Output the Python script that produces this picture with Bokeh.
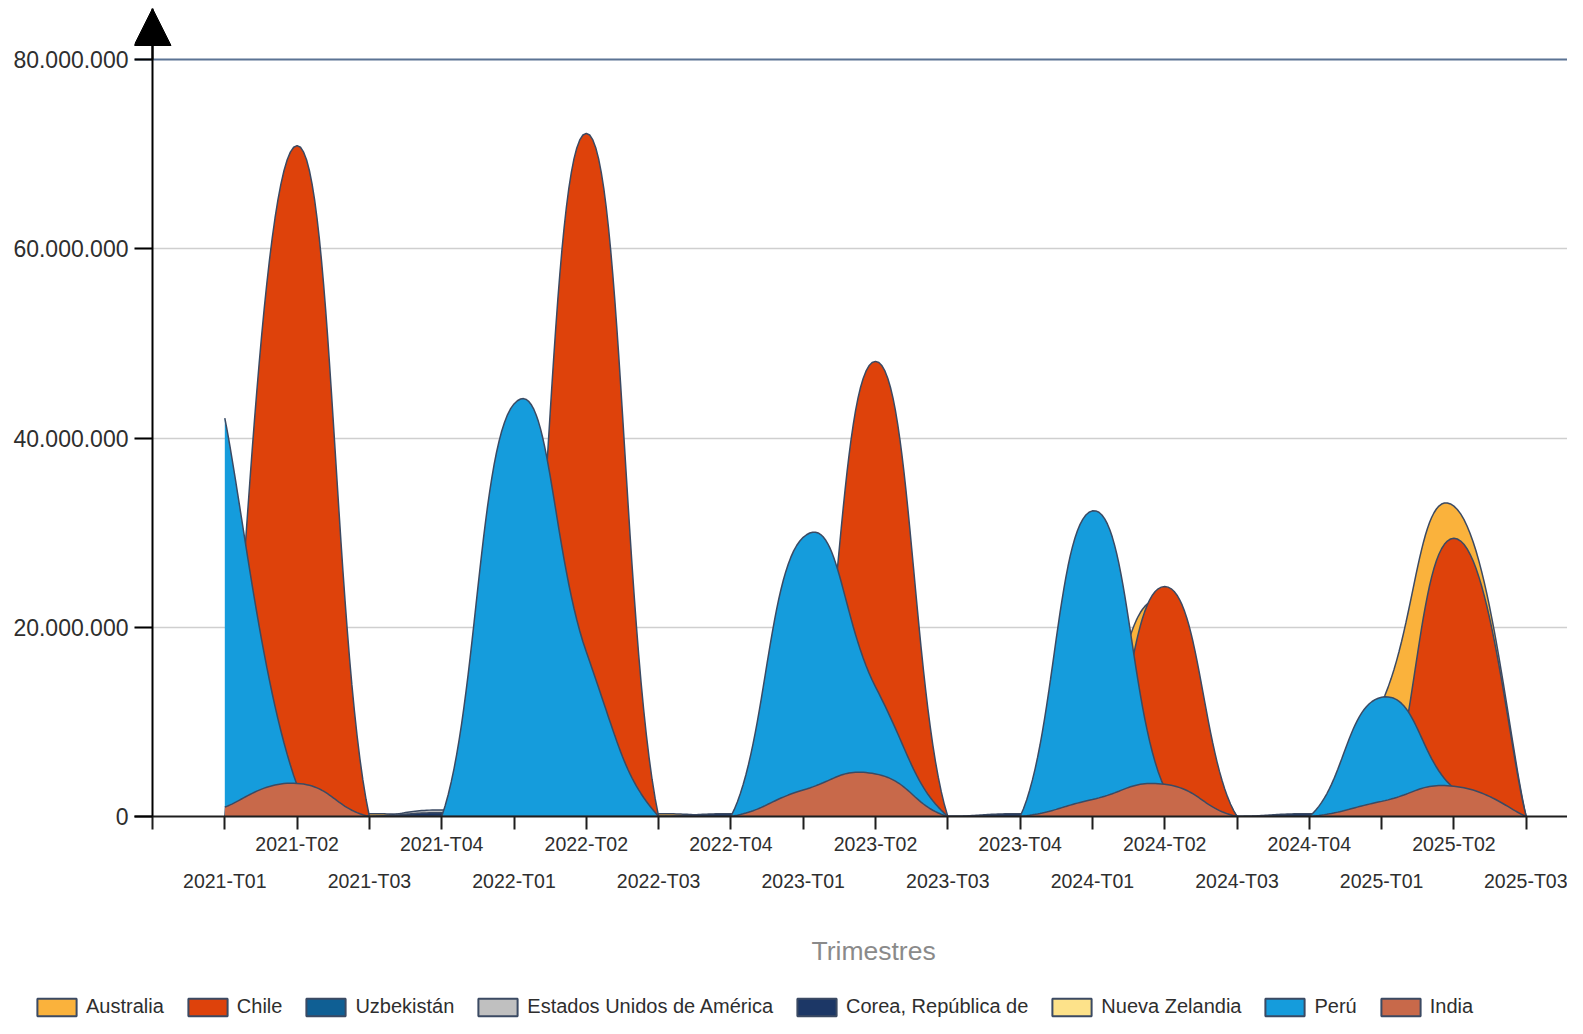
import numpy as np
from bokeh.plotting import figure
from bokeh.layouts import column
from bokeh.models import (Range1d, FixedTicker, LinearAxis, Grid, Legend, LegendItem,
                          ColumnDataSource, Span, Arrow, NormalHead, Title)
from bokeh.embed import file_html
from bokeh.resources import INLINE

# ---------------- data ----------------
categories = ["2021-T01", "2021-T02", "2021-T03", "2021-T04",
              "2022-T01", "2022-T02", "2022-T03", "2022-T04",
              "2023-T01", "2023-T02", "2023-T03", "2023-T04",
              "2024-T01", "2024-T02", "2024-T03", "2024-T04",
              "2025-T01", "2025-T02", "2025-T03"]

australia = [0, 0, 0.3e6, 0, 0, 0, 0.3e6, 0, 0, 0, 0, 0, 9.0e6, 22.5e6, 0, 0, 12.0e6, 32.8e6, 0]
chile = [0, 70.9e6, 0, 0, 0, 72.2e6, 0, 0, 0, 48.1e6, 0, 0, 0, 24.3e6, 0, 0, 0, 29.4e6, 0]
uzbekistan = [0, 0, 0, 0.3e6, 0, 0, 0, 0, 0, 0, 0, 0, 0, 0, 0, 0, 0, 0, 0]
estados_unidos = [0, 0, 0, 0.7e6, 0, 0, 0, 0, 0, 0, 0, 0, 0, 0, 0, 0, 0, 0, 0]
corea = [0, 0, 0, 0.4e6, 0, 0, 0, 0.3e6, 0, 0, 0, 0.3e6, 0, 0, 0, 0.3e6, 0, 0, 0]
nueva_zelandia = [0] * 19
peru = [42.1e6, 3.3e6, 0, 0, 43.6e6, 17.4e6, 0, 0, 29.5e6, 13.7e6, 0, 0, 32.3e6, 3.0e6, 0, 0, 12.6e6, 3.0e6, 0]
india = [1.0e6, 3.5e6, 0, 0, 0, 0, 0, 0, 2.8e6, 4.5e6, 0, 0, 1.8e6, 3.4e6, 0, 0, 1.6e6, 3.2e6, 0]

series_names = ["Australia", "Chile", "Uzbekistán", "Estados Unidos de América",
                "Corea, República de", "Nueva Zelandia", "Perú", "India"]
series_values = [australia, chile, uzbekistan, estados_unidos, corea, nueva_zelandia, peru, india]
series_colors = ["#FAB23C", "#DE420B", "#0F5F94", "#C0C0C0",
                 "#1C3766", "#FDE28A", "#159CDC", "#C8694A"]

y_ticks = [0, 20e6, 40e6, 60e6, 80e6]
y_tick_labels = ["0", "20.000.000", "40.000.000", "60.000.000", "80.000.000"]
x_title = "Trimestres"

OUTLINE = "#3B4A63"
FONT = "Liberation Sans"
TXT = "#2E2E2E"


def cardinal_spline(xs, ys, k=0.24, steps=30):
    """GDI+-style cardinal spline (tension 0.8) through the points (rendering only)."""
    pts = list(zip(xs, ys))
    n = len(pts)
    ox, oy = [], []
    for i in range(n - 1):
        p0 = pts[i - 1] if i > 0 else pts[i]
        p1 = pts[i]
        p2 = pts[i + 1]
        p3 = pts[i + 2] if i + 2 < n else pts[i + 1]
        c1 = (p1[0] + k * (p2[0] - p0[0]), p1[1] + k * (p2[1] - p0[1]))
        c2 = (p2[0] - k * (p3[0] - p1[0]), p2[1] - k * (p3[1] - p1[1]))
        t = np.linspace(0, 1, steps, endpoint=False)
        a = (1 - t) ** 3
        b = 3 * (1 - t) ** 2 * t
        c = 3 * (1 - t) * t ** 2
        d = t ** 3
        ox.extend(a * p1[0] + b * c1[0] + c * c2[0] + d * p2[0])
        oy.extend(a * p1[1] + b * c1[1] + c * c2[1] + d * p2[1])
    ox.append(pts[-1][0])
    oy.append(pts[-1][1])
    return np.array(ox), np.array(oy)


xpos = list(range(1, len(categories) + 1))

W = 1567
H_TOTAL = 1018
H_MAIN = 910
H_LEG = H_TOTAL - H_MAIN
FRAME_LEFT = 134      # frame starts a little left of the y axis line
AXIS_X = 152          # where x = 0 (the drawn y axis) lies
STEP = 72.3           # pixels per category
FRAME_TOP = 8
FRAME_BOTTOM = 816
Y80 = 59
px_per_unit = (FRAME_BOTTOM - Y80) / 80e6
y_end = (FRAME_BOTTOM - FRAME_TOP) / px_per_unit
x_start = -(AXIS_X - FRAME_LEFT) / STEP
x_end = (W - AXIS_X) / STEP

p = figure(width=W, height=H_MAIN, x_range=Range1d(x_start, x_end), y_range=Range1d(0, y_end),
           toolbar_location=None, output_backend="svg",
           min_border_left=FRAME_LEFT, min_border_right=0, min_border_top=FRAME_TOP,
           min_border_bottom=H_MAIN - FRAME_BOTTOM, x_axis_location=None, y_axis_location="left")
p.frame_align = False
p.outline_line_color = None
p.background_fill_color = "white"
p.border_fill_color = "white"
p.xgrid.visible = False
p.ygrid.visible = False

# grids
p.add_layout(Grid(dimension=1, ticker=FixedTicker(ticks=y_ticks[1:4]),
                  grid_line_color="#CFCFCF", grid_line_width=1.5))
p.add_layout(Grid(dimension=1, ticker=FixedTicker(ticks=[80e6]),
                  grid_line_color="#5B7394", grid_line_width=2))

# areas (drawn in legend order, later ones in front)
for name, vals, col in zip(series_names, series_values, series_colors):
    sx, sy = cardinal_spline(xpos, vals)
    src = ColumnDataSource(dict(x=sx, y=sy, z=np.zeros_like(sx)))
    p.varea(x="x", y1="z", y2="y", source=src, fill_color=col, fill_alpha=1)
    p.line(x="x", y="y", source=src, line_color=OUTLINE, line_width=1.5)

# vertical axis line at x = 0 with an arrow head on top
p.add_layout(Span(location=0, dimension="height", line_color="black", line_width=2))
p.add_layout(Arrow(end=NormalHead(size=37, fill_color="black", line_color="black", line_width=1),
                   x_start=0, y_start=80e6, x_end=0, y_end=y_end,
                   line_color="black", line_width=2))

# y axis (ticks drawn inwards so they end on the axis line)
yax = p.yaxis[0]
yax.ticker = FixedTicker(ticks=y_ticks)
yax.major_label_overrides = {t: l for t, l in zip(y_ticks, y_tick_labels)}
yax.axis_line_color = None
yax.major_tick_line_color = "black"
yax.major_tick_line_width = 2
yax.major_tick_out = 0
yax.major_tick_in = AXIS_X - FRAME_LEFT
yax.minor_tick_line_color = None
yax.major_label_standoff = 6
yax.major_label_text_font = FONT
yax.major_label_text_font_size = "23px"
yax.major_label_text_color = TXT

# x axis: upper row of labels + tick marks
upper = {float(i): "" for i in range(0, 20)}
lower = {}
for i, c in enumerate(categories):
    if i % 2 == 1:
        upper[float(i + 1)] = c
    else:
        lower[float(i + 1)] = c

xax1 = LinearAxis(ticker=FixedTicker(ticks=list(range(0, 20))))
xax1.major_label_overrides = upper
xax1.axis_line_color = "#1E1E1E"
xax1.axis_line_width = 2
xax1.major_tick_line_color = "#1E1E1E"
xax1.major_tick_line_width = 2
xax1.major_tick_out = 13
xax1.major_tick_in = 0
xax1.minor_tick_line_color = None
xax1.major_label_standoff = 3
xax1.major_label_text_font = FONT
xax1.major_label_text_font_size = "19.5px"
xax1.major_label_text_color = TXT
p.add_layout(xax1, "below")

xax2 = LinearAxis(ticker=FixedTicker(ticks=[float(i) for i in range(1, 20, 2)]))
xax2.major_label_overrides = lower
xax2.axis_line_color = None
xax2.major_tick_line_color = None
xax2.major_tick_out = 0
xax2.major_tick_in = 0
xax2.minor_tick_line_color = None
xax2.major_label_standoff = 12
xax2.major_label_text_font = FONT
xax2.major_label_text_font_size = "19.5px"
xax2.major_label_text_color = TXT
p.add_layout(xax2, "below")

# strip under the chart: axis title + legend
lf = figure(width=W, height=H_LEG, toolbar_location=None, output_backend="svg",
            x_range=Range1d(0, 1), y_range=Range1d(0, 1),
            min_border_left=0, min_border_right=0, min_border_top=0, min_border_bottom=0,
            x_axis_location=None, y_axis_location=None, title=None)
lf.frame_align = False
lf.outline_line_color = None
lf.grid.visible = False
lf.add_layout(Title(text=x_title, align="left", offset=811, vertical_align="top", standoff=50,
                    text_font=FONT, text_font_size="26.5px", text_font_style="normal",
                    text_color="#8A8A8A"), "above")

items = []
for name, col in zip(series_names, series_colors):
    # swatch renderer kept outside the strip's visible range; only its legend entry shows
    r = lf.quad(left=[2], right=[3], top=[3], bottom=[2], fill_color=col,
                line_color=OUTLINE, line_width=2)
    items.append(LegendItem(label=name, renderers=[r]))
legend = Legend(items=items, orientation="horizontal", location=(32, 0),
                glyph_width=49, glyph_height=22, label_standoff=5, spacing=19,
                padding=0, margin=0, border_line_color=None, background_fill_alpha=0,
                label_text_font=FONT, label_text_font_size="20px",
                label_text_color=TXT)
lf.add_layout(legend, "center")

layout = column(p, lf, spacing=0)
open("out.html", "w").write(file_html(layout, INLINE))
